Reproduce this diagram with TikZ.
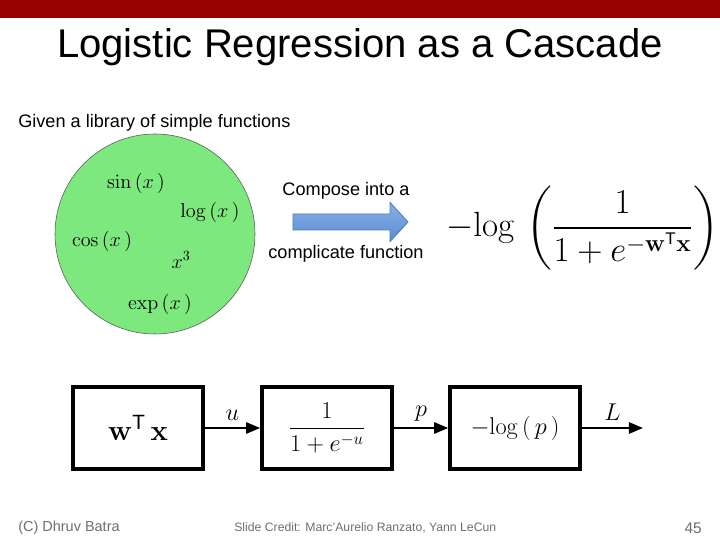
\documentclass[tikz,border=0pt]{standalone}
\usepackage{amsmath}
\usepackage[no-math]{fontspec}
\setmainfont{Liberation Sans}
\setsansfont{Liberation Sans}
\usepackage{xcolor}
\usepackage{tikz}
\usetikzlibrary{arrows.meta, positioning}
\definecolor{slidered}{RGB}{153,0,0}
\definecolor{libgreen}{RGB}{125,232,125}
\definecolor{arrowtop}{RGB}{135,175,232}
\definecolor{arrowbot}{RGB}{92,140,210}
\definecolor{arrowedge}{RGB}{74,126,187}
\definecolor{footgray}{RGB}{110,110,110}
\begin{document}
\begin{tikzpicture}[
  fnbox/.style={rectangle, draw=black, line width=2.6pt, minimum width=3.25cm, minimum height=2.05cm, inner sep=0pt, font=\fontsize{18.5}{22}\selectfont},
  libfn/.style={font=\fontsize{14.5}{17}\selectfont},
  note/.style={font=\fontsize{12.9}{15}\selectfont, inner sep=0pt},
  flow/.style={-{Triangle[length=10pt, width=8pt]}, line width=1.4pt},
  varlabel/.style={font=\fontsize{17}{20}\selectfont, above=1pt},
  footer/.style={font=\fontsize{10.3}{12}\selectfont, text=footgray, inner sep=0pt}
]
\useasboundingbox (0,0) rectangle (18,13.5);
\fill[slidered] (0,13.05) rectangle (18,13.5);
\node[font=\fontsize{28.5}{32}\selectfont] (title) at (9,12.325) {Logistic Regression as a Cascade};
\node[note, anchor=west] (given) at (0.45,10.425) {Given a library of simple functions};
% library of simple functions
\node[circle, draw=gray!70!black, fill=libgreen, minimum size=5cm] (lib) at (3.875,7.65) {};
\node[libfn] (fsin) at (3.4,8.925) {$\sin\,(x\,)$};
\node[libfn] (flog) at (5.25,8.2) {$\log\,(x\,)$};
\node[libfn] (fcos) at (2.55,7.475) {$\cos\,(x\,)$};
\node[libfn] (fcube) at (4.525,7.0) {$x^3$};
\node[libfn] (fexp) at (4.0,5.9) {$\exp\,(x\,)$};
% compose arrow
\shade[top color=arrowtop, bottom color=arrowbot, draw=arrowedge, line width=0.6pt]
  (7.325,7.75) -- (9.75,7.75) -- (9.75,7.46) -- (10.2,7.95) -- (9.75,8.44) -- (9.75,8.15) -- (7.325,8.15) -- cycle;
\node[note] (composetxt) at (8.65,8.72) {Compose into a};
\node[note] (complicated) at (8.65,7.15) {complicate function};
\node[font=\fontsize{24}{28}\selectfont] (loss) at (14.5625,7.8) {$\displaystyle {-}\!\log\,\left(\frac{1}{1+e^{-\mathbf{w}^{\text{\sffamily T}}\mathbf{x}}}\right)$};
% cascade
\node[fnbox, font=\fontsize{21}{24}\selectfont] (lin) at (3.45,2.8) {$\mathbf{w}^{\text{\sffamily T}}\,\mathbf{x}$};
\node[fnbox] (sig) at (8.175,2.8) {$\dfrac{1}{1+e^{-u}}$};
\node[fnbox] (nlog) at (12.875,2.8) {${-}\!\log\,(\,p\,)$};
\coordinate (out) at (16.075,2.8);
\draw[flow] (lin.east) -- node[varlabel] {$u$} (sig.west);
\draw[flow] (sig.east) -- node[varlabel] {$p$} (nlog.west);
\draw[flow] (nlog.east) -- node[varlabel] {$L$} (out);
% footer
\node[footer, anchor=west] (author) at (0.45,0.3) {(C) Dhruv Batra};
\node[footer, anchor=west, font=\fontsize{8.7}{10}\selectfont] (credit) at (5.85,0.3) {Slide Credit: Marc'Aurelio Ranzato, Yann LeCun};
\node[footer, anchor=east, font=\fontsize{11}{12}\selectfont] (page) at (17.55,0.3) {45};
\end{tikzpicture}
\end{document}
